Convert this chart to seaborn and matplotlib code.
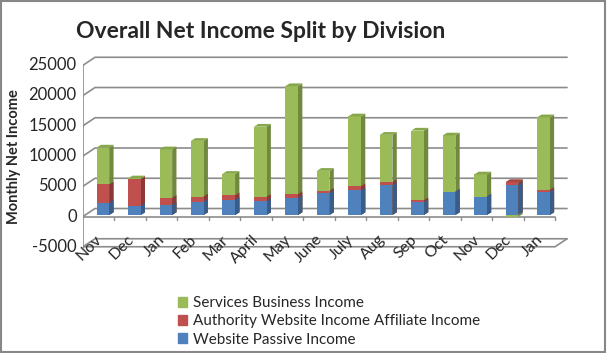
import matplotlib
matplotlib.use("Agg")
import matplotlib.pyplot as plt
import matplotlib.patches as mpatches
import seaborn as sns
import numpy as np
import pandas as pd

# data
months = ["Nov", "Dec", "Jan", "Feb", "Mar", "April", "May", "June",
          "July", "Aug", "Sep", "Oct", "Nov", "Dec", "Jan"]
website_passive = [2050, 1550, 1650, 2200, 2500, 2300, 2850, 3700,
                   4050, 4950, 2150, 3850, 3050, 5000, 3850]
authority_affiliate = [3000, 4350, 1200, 850, 750, 700, 600, 300,
                       700, 500, 300, 0, 0, 450, 300]
services_business = [6100, 150, 8000, 9200, 3550, 11600, 17850, 3300,
                     11550, 7800, 11500, 9300, 3650, -300, 12000]
y_ticks = [-5000, 0, 5000, 10000, 15000, 20000, 25000]
series_names = ["Services Business Income",
                "Authority Website Income Affiliate Income",
                "Website Passive Income"]

GREEN, GREEN_SIDE, GREEN_TOP = "#9bbb59", "#71893f", "#86a84a"
RED, RED_SIDE, RED_TOP = "#c0504d", "#8c3836", "#a84543"
BLUE, BLUE_SIDE, BLUE_TOP = "#4f81bd", "#385d8a", "#4572a7"
GRID = "#8c8c8c"

sns.set_style("white")
plt.rcParams["font.family"] = ["Lato", "DejaVu Sans"]

W, H = 607, 353
fig = plt.figure(figsize=(W / 100, H / 100), dpi=100)
ax = fig.add_axes([83 / W, (H - 254) / H, 487 / W, 204 / H])

df = pd.DataFrame({"pos": range(len(months)), "month": months,
                   "blue": website_passive, "red": authority_affiliate,
                   "green": services_business})
df["red_cum"] = df["blue"] + df["red"]
df["green_cum"] = df["red_cum"] + df["green"].clip(lower=0)
df["green_neg"] = df["green"].clip(upper=0)

# 3d offsets (data units)
dx, dy = 0.381, 1320          # back wall offset
bdx, bdy = 0.138, 450         # bar depth
base = -250                   # front edge of the floor
L = -0.632
R = L + len(months)

layers = [("green_cum", GREEN, GREEN_SIDE, GREEN_TOP, 3),
          ("red_cum", RED, RED_SIDE, RED_TOP, 5),
          ("blue", BLUE, BLUE_SIDE, BLUE_TOP, 7),
          ("green_neg", GREEN, GREEN_SIDE, GREEN_TOP, 9)]

# which segment is on top of each bar
top_layer = []
for _, r in df.iterrows():
    if r["green"] > 0:
        top_layer.append("green_cum")
    elif r["red"] > 0:
        top_layer.append("red_cum")
    else:
        top_layer.append("blue")

for col, c, cs, ct, z in layers:
    n0 = len(ax.patches)
    sns.barplot(data=df, x="pos", y=col, color=c, saturation=1, width=0.4,
                linewidth=0, ax=ax, zorder=z)
    new = ax.patches[n0:]
    for i, p in enumerate(new):
        x0, y0 = p.get_x(), p.get_y()
        w, h = p.get_width(), p.get_height()
        if h == 0:
            continue
        y1 = y0 + h
        lo, hi = min(y0, y1), max(y0, y1)
        side = mpatches.Polygon([(x0 + w, lo), (x0 + w + bdx, lo + bdy),
                                 (x0 + w + bdx, hi + bdy), (x0 + w, hi)],
                                closed=True, fc=cs, ec="none", zorder=z - 0.5)
        ax.add_patch(side)
        if col == top_layer[i] and h > 0:
            top = mpatches.Polygon([(x0, hi), (x0 + bdx, hi + bdy),
                                    (x0 + w + bdx, hi + bdy), (x0 + w, hi)],
                                   closed=True, fc=ct, ec="none", zorder=z + 0.5)
            ax.add_patch(top)

# back wall gridlines with diagonal on the side wall
for v in y_ticks:
    yf = v + base
    ax.plot([L, L + dx, R + dx], [yf, yf + dy, yf + dy], color=GRID, lw=1.2, zorder=1)
    ax.plot([L - 0.05, L], [yf, yf], color=GRID, lw=1.0, zorder=1)
    ax.text(L - 0.2, yf, str(v), ha="right", va="center", fontsize=12)

# floor
yf = y_ticks[0] + base
ax.plot([L, R, R + dx], [yf, yf, yf + dy], color=GRID, lw=1.2, zorder=1)
ax.plot([L, L], [yf, y_ticks[-1] + base], color=GRID, lw=1.2, zorder=1)
# category axis at zero
ax.plot([L, R], [base, base], color=GRID, lw=1.2, zorder=2)
for k in range(1, len(months) + 1):
    ax.plot([L + k, L + k], [base, base - 600], color=GRID, lw=1.0, zorder=2)

for i, m in enumerate(months):
    ax.text(i - 0.1, -3700, m, rotation=45, rotation_mode="anchor",
            ha="right", va="center", fontsize=11.5, zorder=10)

ax.set_xlim(L, L + 487 / 31.47)
ax.set_ylim(base - (254 - 216.5) / 6.05 * 1000, base + (216.5 - 50) / 6.05 * 1000)
ax.axis("off")

fig.text(261 / W, 1 - 31 / H, "Overall Net Income Split by Division", ha="center",
         va="center", fontsize=16.5, fontweight="bold")
fig.text(14 / W, 1 - 157 / H, "Monthly Net Income", rotation=90, ha="center",
         va="center", fontsize=10.5, fontweight="bold")

handles = [mpatches.Patch(color=GREEN), mpatches.Patch(color=RED),
           mpatches.Patch(color=BLUE)]
fig.legend(handles, series_names, loc="upper left",
           bbox_to_anchor=(172 / W, 1 - 290 / H), frameon=False, fontsize=11,
           handlelength=0.6, handleheight=0.6, handletextpad=0.35,
           labelspacing=0.28, borderaxespad=0)

fig.add_artist(mpatches.Rectangle((0.002, 0.003), 0.994, 0.993,
                                  transform=fig.transFigure, fill=False,
                                  ec="#878787", lw=1.5))

fig.savefig("out.png", dpi=100)
